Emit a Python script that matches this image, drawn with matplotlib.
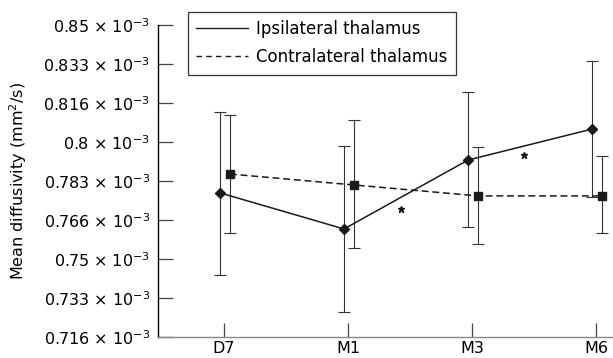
import numpy as np
import matplotlib.pyplot as plt
from matplotlib.lines import Line2D

plt.rcParams['font.family'] = ['DejaVu Sans']
plt.rcParams['mathtext.fontset'] = 'dejavusans'

# time points
timepoints = ["D7", "M1", "M3", "M6"]

# mean diffusivity (x 10^-3 mm^2/s)
ipsi_mean = [0.7779, 0.7624, 0.7920, 0.8053]
ipsi_low = [0.7426, 0.7267, 0.7633, 0.7761]
ipsi_high = [0.8127, 0.7980, 0.8212, 0.8346]

contra_mean = [0.7860, 0.7813, 0.7766, 0.7766]
contra_low = [0.7607, 0.7542, 0.7559, 0.7607]
contra_high = [0.8114, 0.8092, 0.7976, 0.7937]

# significance stars
star_x = [1.43, 2.42]
star_y = [0.7710, 0.7942]

ytick_vals = np.linspace(0.716, 0.85, 9)
ytick_labels = ["0.716", "0.733", "0.75", "0.766", "0.783", "0.8", "0.816", "0.833", "0.85"]

fig = plt.figure(figsize=(6.13, 3.58), dpi=100)
ax = fig.add_axes([158 / 613, 1 - 337 / 358, 1 - 158 / 613, (337 - 25) / 358])

x = np.arange(len(timepoints))
ink = "#1a1a1a"

ipsi_err = [np.array(ipsi_mean) - np.array(ipsi_low), np.array(ipsi_high) - np.array(ipsi_mean)]
contra_err = [np.array(contra_mean) - np.array(contra_low), np.array(contra_high) - np.array(contra_mean)]

ax.errorbar(x - 0.032, ipsi_mean, yerr=ipsi_err, fmt="none", ecolor="#333333",
            elinewidth=0.8, capsize=4.6, capthick=0.8)
ax.errorbar(x + 0.048, contra_mean, yerr=contra_err, fmt="none", ecolor="#333333",
            elinewidth=0.8, capsize=4.6, capthick=0.8)
ax.plot(x - 0.032, ipsi_mean, "-", color=ink, lw=1.1, marker="D", ms=5.2)
ax.plot(x + 0.048, contra_mean, color=ink, lw=1.1, marker="s", ms=6, dashes=(4.5, 2.5))
ax.plot(star_x, star_y, "*", color=ink, ms=5, ls="none")

ax.set_xlim(-0.532, 3.137)
ax.set_ylim(0.716, 0.85)
ax.set_xticks(x)
ax.set_xticklabels(timepoints, fontsize=11.5)
ax.set_yticks(ytick_vals)
ax.set_yticklabels([s + " × 10$^{-3}$" for s in ytick_labels], fontsize=11.5)

ax.spines["top"].set_visible(False)
ax.spines["right"].set_visible(False)
ax.spines["left"].set_color("black")
ax.spines["left"].set_linewidth(1.0)
ax.spines["bottom"].set_color("#888888")
ax.spines["bottom"].set_linewidth(1.0)
ax.tick_params(axis="y", direction="in", length=11, width=0.9, color="#444444", pad=6)
ax.tick_params(axis="x", direction="in", length=10, width=0.9, color="#444444", pad=3)

ax.set_ylabel("Mean diffusivity (mm$^2$/s)", fontsize=11.5, labelpad=10)

handles = [Line2D([], [], color=ink, lw=1.0),
           Line2D([], [], color=ink, lw=1.0, dashes=(4, 3))]
leg = fig.legend(handles, ["Ipsilateral thalamus", "Contralateral thalamus"],
                 loc="upper left", bbox_to_anchor=(188 / 613, 1 - 12 / 358),
                 fontsize=12, frameon=True, fancybox=False, handlelength=3.1,
                 borderpad=0.5, labelspacing=0.6, handletextpad=0.5, borderaxespad=0)
leg.get_frame().set_edgecolor("black")
leg.get_frame().set_linewidth(0.9)

fig.savefig("out.png", dpi=100)
